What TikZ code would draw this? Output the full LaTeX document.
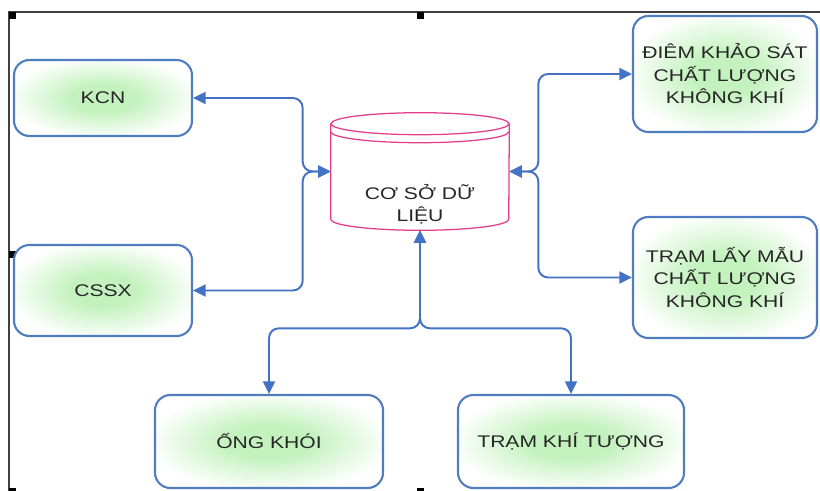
\documentclass[tikz,border=0pt]{standalone}
\usepackage{fontspec}
\setmainfont{Liberation Sans}[FakeStretch=1.25]
\usetikzlibrary{arrows.meta, positioning, calc}
\definecolor{linkblue}{RGB}{68,114,196}
\definecolor{boxblue}{RGB}{79,125,192}
\definecolor{dbpink}{RGB}{228,60,140}
\definecolor{glowgreen}{RGB}{196,242,190}
\pgfdeclareradialshading{glow}{\pgfpointorigin}{color(0bp)=(glowgreen); color(9bp)=(glowgreen); color(27bp)=(white); color(50bp)=(white)}
\tikzset{%
	box/.style={draw=boxblue, line width=1.5pt, rectangle, rounded corners=11pt,%
		shading=glow, align=center, text=black!85, font=\fontsize{12}{16}\selectfont, inner sep=0pt},
	db/.style={rectangle, minimum width=4.45cm, minimum height=2.925cm, inner sep=0pt},
	dbline/.style={draw=dbpink, line width=0.9pt},
	dbtext/.style={align=center, text=black!85, font=\fontsize{12}{16}\selectfont},
	link/.style={draw=linkblue, line width=1.4pt, rounded corners=7pt},
	tip/.style={{Triangle[length=9pt,width=8.5pt]}-{Triangle[length=9pt,width=8.5pt]}},
	frame/.style={draw=black!75, line width=1pt},
	handle/.style={fill=black}
}

\begin{document}
\begin{tikzpicture}[x=0.025cm, y=-0.025cm]
	\clip (0,0) rectangle (820,491);
	\draw[frame] (9,12) rectangle (832,496);
	\foreach \hx/\hy in {9/12, 417/12, 9/251, 417/488, 9/488}
		\fill[handle] (\hx,\hy) rectangle ++(7,7);

	\node[box, minimum width=4.45cm, minimum height=1.9cm] (kcn) at (103,98) {KCN};
	\node[box, minimum width=4.45cm, minimum height=2.275cm] (cssx) at (103,290.5) {CSSX};
	\node[box, minimum width=4.6cm, minimum height=2.9cm] (diem) at (725,74) {ĐIÊM KHẢO SÁT\\CHẤT LƯỢNG\\KHÔNG KHÍ};
	\node[box, minimum width=4.6cm, minimum height=3.025cm] (tramlay) at (725,277.5) {TRẠM LẤY MẪU\\CHẤT LƯỢNG\\KHÔNG KHÍ};
	\node[box, minimum width=5.7cm, minimum height=2.325cm] (ongkhoi) at (269,441.5) {ỐNG KHÓI};
	\node[box, minimum width=5.65cm, minimum height=2.325cm] (khituong) at (571,441.5) {TRẠM KHÍ TƯỢNG};

	% database drum
	\node[db] (db) at (420,171.5) {};
	\draw[dbline] ($(db.north)+(0,11)$) ellipse [x radius=2.225cm, y radius=0.275cm];
	\draw[dbline] ($(db.north west)+(0,19)$) arc[start angle=180, end angle=360, x radius=2.225cm, y radius=0.275cm];
	\draw[dbline] ($(db.north west)+(0,11)$) -- ($(db.south west)+(0,-11)$)
		arc[start angle=180, end angle=360, x radius=2.225cm, y radius=0.275cm] -- ($(db.north east)+(0,11)$);
	\node[dbtext] (dblabel) at (420,204) {CƠ SỞ DỮ\\LIỆU};

	\coordinate (jl) at ($(db.west)+(-28,0)$);
	\coordinate (jr) at ($(db.east)+(29,0)$);
	\coordinate (jb) at ($(db.south)+(0,98)$);

	\draw[link, tip] (kcn.east) -| (jl) -- (db.west);
	\draw[link, tip] (cssx.east) -| (jl) -- (db.west);
	\draw[link, tip] (diem.west) -| (jr) -- (db.east);
	\draw[link, tip] (tramlay.west) -| (jr) -- (db.east);
	\draw[link, tip] (ongkhoi.north) |- (jb) -- (db.south);
	\draw[link, tip] (khituong.north) |- (jb) -- (db.south);
\end{tikzpicture}
\end{document}
